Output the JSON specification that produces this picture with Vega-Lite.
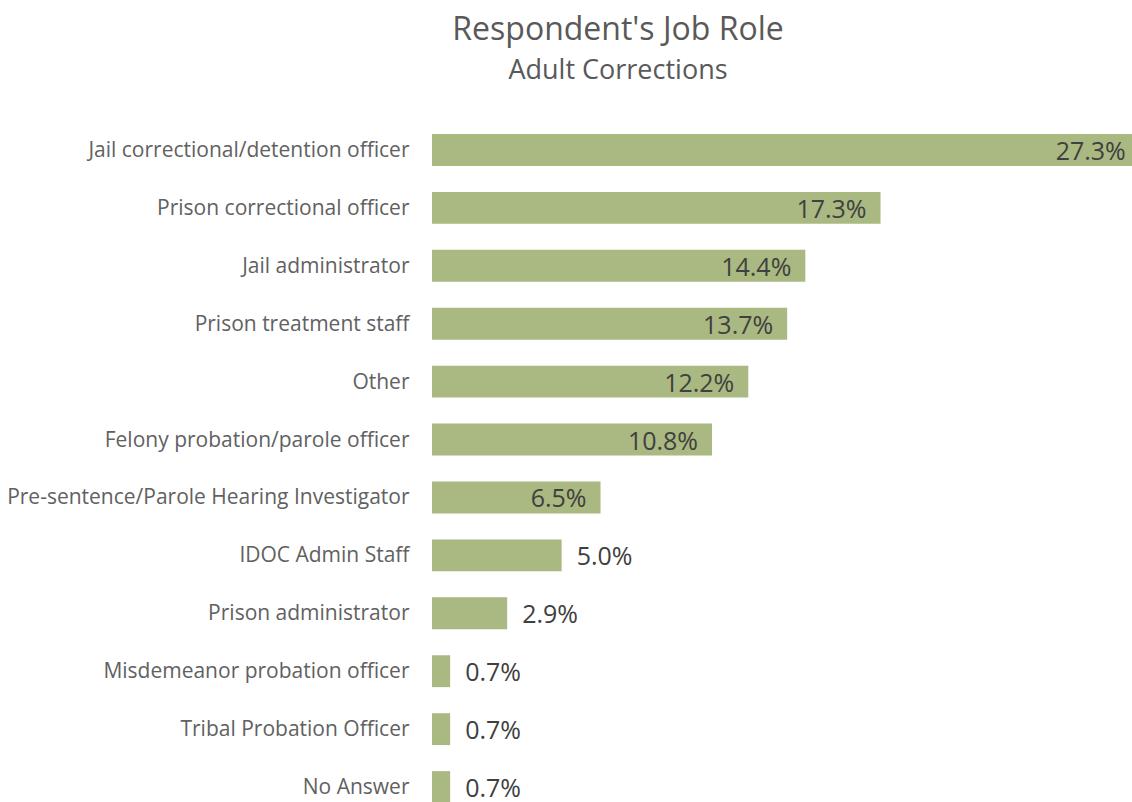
{
  "$schema": "https://vega.github.io/schema/vega-lite/v6.json",
  "autosize": {"type": "none"},
  "width": 700,
  "height": 695,
  "padding": {"left": 432, "top": 121, "right": 0, "bottom": 0},
  "background": "white",
  "title": {
    "text": "Respondent's Job Role",
    "subtitle": "Adult Corrections",
    "anchor": "middle",
    "frame": "group",
    "dx": -164,
    "font": "Open Sans",
    "fontSize": 32,
    "fontWeight": "normal",
    "color": "#595959",
    "subtitleFont": "Open Sans",
    "subtitleFontSize": 27,
    "subtitleColor": "#595959",
    "subtitlePadding": 11,
    "offset": 36
  },
  "data": {
    "values": [
      {"role": "Jail correctional/detention officer", "pct": 0.273},
      {"role": "Prison correctional officer", "pct": 0.173},
      {"role": "Jail administrator", "pct": 0.144},
      {"role": "Prison treatment staff", "pct": 0.137},
      {"role": "Other", "pct": 0.122},
      {"role": "Felony probation/parole officer", "pct": 0.108},
      {"role": "Pre-sentence/Parole Hearing Investigator", "pct": 0.065},
      {"role": "IDOC Admin Staff", "pct": 0.05},
      {"role": "Prison administrator", "pct": 0.029},
      {"role": "Misdemeanor probation officer", "pct": 0.007},
      {"role": "Tribal Probation Officer", "pct": 0.007},
      {"role": "No Answer", "pct": 0.007}
    ]
  },
  "encoding": {
    "y": {
      "field": "role",
      "type": "nominal",
      "sort": null,
      "title": null,
      "scale": {"paddingInner": 0.45, "paddingOuter": 0.225},
      "axis": {
        "domain": false,
        "ticks": false,
        "labelPadding": 23,
        "labelFont": "Open Sans",
        "labelFontSize": 21,
        "labelColor": "#616161",
        "labelLimit": 0,
        "labelOffset": 1
      }
    },
    "x": {
      "field": "pct",
      "type": "quantitative",
      "scale": {"domain": [0, 0.27], "nice": false, "zero": true},
      "axis": null
    }
  },
  "layer": [
    {"mark": {"type": "bar", "color": "#a9b981", "clip": false}},
    {
      "transform": [{"filter": "datum.pct >= 0.06"}],
      "mark": {"type": "text", "align": "right", "baseline": "middle", "dx": -14, "dy": 2, "font": "Open Sans", "fontSize": 25, "color": "#404040"},
      "encoding": {"text": {"field": "pct", "type": "quantitative", "format": ".1%"}}
    },
    {
      "transform": [{"filter": "datum.pct < 0.06"}],
      "mark": {"type": "text", "align": "left", "baseline": "middle", "dx": 15, "dy": 2, "font": "Open Sans", "fontSize": 25, "color": "#404040"},
      "encoding": {"text": {"field": "pct", "type": "quantitative", "format": ".1%"}}
    }
  ],
  "config": {"view": {"stroke": null}}
}
